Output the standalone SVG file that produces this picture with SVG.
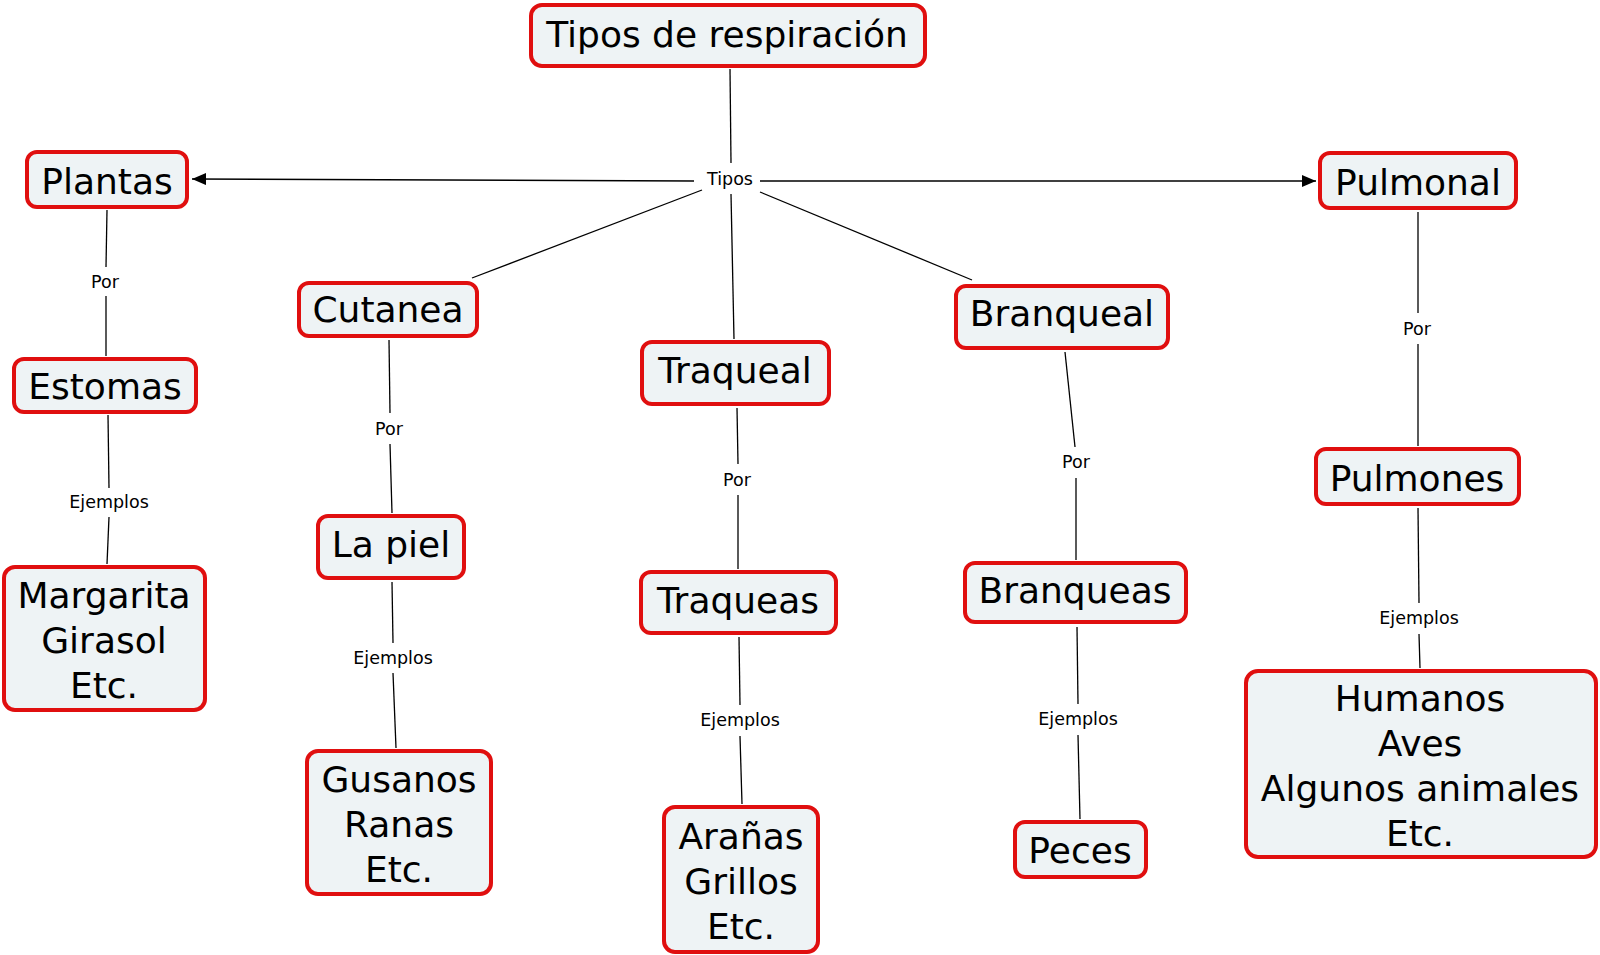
<svg xmlns="http://www.w3.org/2000/svg" width="1600" height="955" viewBox="0 0 1600 955">
<style>
.box{fill:#eef3f5;stroke:#e00f0f;stroke-width:4}
.t{font-family:"DejaVu Sans","Verdana",sans-serif;font-size:36px;fill:#000;text-anchor:middle}
.l{font-family:"DejaVu Sans","Verdana",sans-serif;font-size:17.5px;fill:#000;text-anchor:middle}
.c{stroke:#000;stroke-width:1.3;fill:none}
</style>
<defs>
<marker id="arr" viewBox="0 0 14 12" refX="14" refY="6" markerWidth="14" markerHeight="12" markerUnits="userSpaceOnUse" orient="auto">
<path d="M0,0 L14,6 L0,12 Z" fill="#000"/>
</marker>
</defs>
<rect width="1600" height="955" fill="#fff"/>
<g id="connectors">
<line class="c" x1="730" y1="69" x2="731" y2="163"/>
<line class="c" x1="694" y1="181" x2="192" y2="179" marker-end="url(#arr)"/>
<line class="c" x1="760" y1="181" x2="1316" y2="181" marker-end="url(#arr)"/>
<line class="c" x1="702" y1="190" x2="472" y2="278"/>
<line class="c" x1="731" y1="194" x2="734" y2="339"/>
<line class="c" x1="760" y1="192" x2="972" y2="280"/>
<line class="c" x1="107" y1="210" x2="106" y2="267"/>
<line class="c" x1="106" y1="296" x2="106" y2="356"/>
<line class="c" x1="108" y1="415" x2="109" y2="488"/>
<line class="c" x1="109" y1="517" x2="107" y2="564"/>
<line class="c" x1="389" y1="340" x2="390" y2="413"/>
<line class="c" x1="390" y1="444" x2="392" y2="513"/>
<line class="c" x1="392" y1="582" x2="393" y2="643"/>
<line class="c" x1="393" y1="673" x2="396" y2="748"/>
<line class="c" x1="737" y1="408" x2="738" y2="464"/>
<line class="c" x1="738" y1="495" x2="738" y2="569"/>
<line class="c" x1="739" y1="637" x2="740" y2="705"/>
<line class="c" x1="740" y1="736" x2="742" y2="804"/>
<line class="c" x1="1065" y1="352" x2="1075" y2="447"/>
<line class="c" x1="1076" y1="478" x2="1076" y2="560"/>
<line class="c" x1="1077" y1="627" x2="1078" y2="704"/>
<line class="c" x1="1078" y1="735" x2="1080" y2="819"/>
<line class="c" x1="1418" y1="212" x2="1418" y2="313"/>
<line class="c" x1="1418" y1="344" x2="1418" y2="446"/>
<line class="c" x1="1418" y1="508" x2="1419" y2="603"/>
<line class="c" x1="1419" y1="634" x2="1420" y2="668"/>
<text class="l" x="730" y="185">Tipos</text>
<text class="l" x="105" y="288">Por</text>
<text class="l" x="109" y="508">Ejemplos</text>
<text class="l" x="389" y="435">Por</text>
<text class="l" x="393" y="664">Ejemplos</text>
<text class="l" x="737" y="486">Por</text>
<text class="l" x="740" y="726">Ejemplos</text>
<text class="l" x="1076" y="468">Por</text>
<text class="l" x="1078" y="725">Ejemplos</text>
<text class="l" x="1417" y="335">Por</text>
<text class="l" x="1419" y="624">Ejemplos</text>
</g>
<g id="root"><rect class="box" x="531" y="5" width="394" height="61" rx="11"/><text class="t" x="727" y="47">Tipos de respiración</text></g>
<g id="plantas"><rect class="box" x="27" y="152" width="160" height="55" rx="10"/><text class="t" x="107" y="194">Plantas</text></g>
<g id="pulmonal"><rect class="box" x="1320" y="153" width="196" height="55" rx="10"/><text class="t" x="1418" y="195">Pulmonal</text></g>
<g id="cutanea"><rect class="box" x="299" y="283" width="178" height="53" rx="10"/><text class="t" x="388" y="322">Cutanea</text></g>
<g id="traqueal"><rect class="box" x="642" y="342" width="187" height="62" rx="10"/><text class="t" x="735" y="383">Traqueal</text></g>
<g id="branqueal"><rect class="box" x="956" y="286" width="212" height="62" rx="10"/><text class="t" x="1062" y="326">Branqueal</text></g>
<g id="estomas"><rect class="box" x="14" y="359" width="182" height="53" rx="10"/><text class="t" x="105" y="399">Estomas</text></g>
<g id="pulmones"><rect class="box" x="1316" y="449" width="203" height="55" rx="10"/><text class="t" x="1417" y="491">Pulmones</text></g>
<g id="lapiel"><rect class="box" x="318" y="516" width="146" height="62" rx="10"/><text class="t" x="391" y="557">La piel</text></g>
<g id="traqueas"><rect class="box" x="641" y="572" width="195" height="61" rx="10"/><text class="t" x="738" y="613">Traqueas</text></g>
<g id="branqueas"><rect class="box" x="965" y="563" width="221" height="59" rx="10"/><text class="t" x="1075" y="603">Branqueas</text></g>
<g id="margarita"><rect class="box" x="4" y="567" width="201" height="143" rx="11"/><text class="t" x="104" y="608">Margarita</text><text class="t" x="104" y="653">Girasol</text><text class="t" x="104" y="698">Etc.</text></g>
<g id="gusanos"><rect class="box" x="307" y="751" width="184" height="143" rx="11"/><text class="t" x="399" y="792">Gusanos</text><text class="t" x="399" y="837">Ranas</text><text class="t" x="399" y="882">Etc.</text></g>
<g id="aranas"><rect class="box" x="664" y="807" width="154" height="145" rx="11"/><text class="t" x="741" y="849">Arañas</text><text class="t" x="741" y="894">Grillos</text><text class="t" x="741" y="939">Etc.</text></g>
<g id="peces"><rect class="box" x="1015" y="822" width="131" height="55" rx="10"/><text class="t" x="1080" y="863">Peces</text></g>
<g id="humanos"><rect class="box" x="1246" y="671" width="350" height="186" rx="12"/><text class="t" x="1420" y="711">Humanos</text><text class="t" x="1420" y="756">Aves</text><text class="t" x="1420" y="801">Algunos animales</text><text class="t" x="1420" y="846">Etc.</text></g>
</svg>
